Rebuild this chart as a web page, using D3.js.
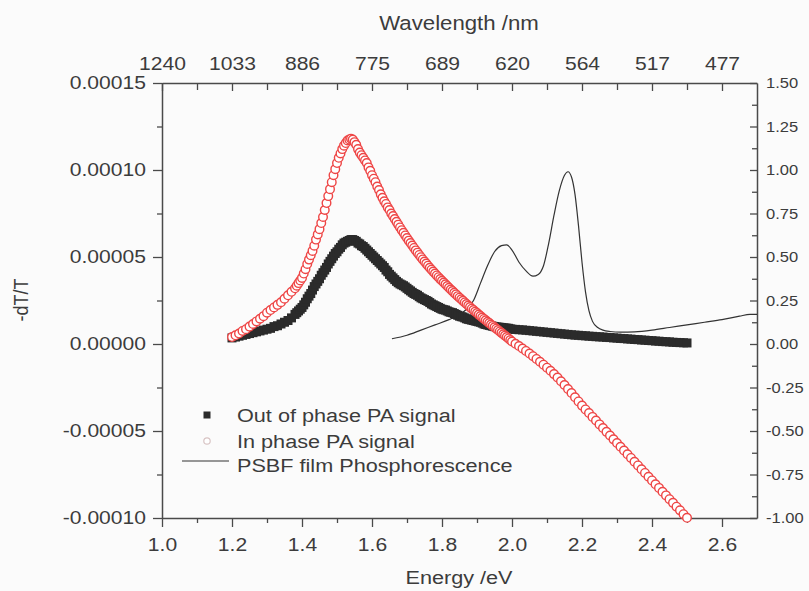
<!DOCTYPE html>
<html>
<head>
<meta charset="utf-8">
<script src="https://cdn.jsdelivr.net/npm/d3@7"></script>
<style>
  body { margin: 0; background: #fbfbfb; }
  svg { display: block; font-family: "Liberation Sans", Arial, sans-serif; }
</style>
</head>
<body>
<svg id="chart" width="809" height="591"></svg>
<script>
// === DATA ===
// photon energy (eV) of the PA points
const energy = [
  1.20,1.21,1.22,1.23,1.24,1.25,1.26,1.27,1.28,1.29,1.30,1.31,1.32,1.33,1.34,1.35,1.36,1.37,1.38,
  1.385,1.39,1.395,1.40,1.405,1.41,1.415,1.42,1.425,1.43,
  1.435,1.44,1.445,1.45,1.455,1.46,1.465,1.47,1.475,1.48,
  1.485,1.49,1.495,1.50,1.505,1.51,1.515,1.52,1.525,1.53,
  1.535,1.54,1.545,1.55,1.555,1.56,1.565,1.57,1.575,1.58,
  1.585,1.59,1.595,1.60,1.605,1.61,1.615,1.62,1.625,1.63,
  1.635,1.64,1.645,1.65,1.655,1.66,
  1.665,1.67,1.675,1.68,1.685,1.69,1.695,1.70,1.705,1.71,
  1.715,1.72,1.725,1.73,1.735,1.74,1.745,1.75,1.755,1.76,
  1.765,1.77,1.775,1.78,1.785,1.79,1.795,1.80,1.805,1.81,
  1.815,1.82,1.825,1.83,1.835,1.84,1.845,1.85,1.855,1.86,
  1.865,1.87,1.875,1.88,1.885,1.89,1.895,1.90,1.905,1.91,
  1.915,1.92,1.925,1.93,1.935,1.94,1.945,1.95,1.955,1.96,
  1.965,1.97,1.975,1.98,1.985,1.99,1.995,2.00,
  2.01,2.02,2.03,2.04,2.05,2.06,2.07,2.08,2.09,2.10,
  2.11,2.12,2.13,2.14,2.15,2.16,2.17,2.18,2.19,2.20,
  2.21,2.22,2.23,2.24,2.25,2.26,2.27,2.28,2.29,2.30,
  2.31,2.32,2.33,2.34,2.35,2.36,2.37,2.38,2.39,2.40,
  2.41,2.42,2.43,2.44,2.45,2.46,2.47,2.48,2.49,2.50
];
// -dT/T, in units of 1e-5
const outPhase = [
  0.35,0.4,0.45,0.5,0.55,0.6,0.65,0.7,0.75,0.8,0.85,0.9,1.0,1.05,1.15,1.25,1.35,1.5,1.7,
  1.8,1.9,2.0,2.1,2.25,2.4,2.6,2.75,2.9,3.1,
  3.3,3.45,3.6,3.75,3.95,4.1,4.25,4.4,4.6,4.75,
  4.9,5.05,5.2,5.3,5.45,5.55,5.7,5.8,5.85,5.9,
  5.95,6.0,6.0,5.95,5.9,5.8,5.75,5.65,5.6,5.5,
  5.4,5.3,5.2,5.1,5.0,4.9,4.8,4.7,4.6,4.5,
  4.4,4.25,4.15,4.0,3.9,3.8,
  3.7,3.6,3.52,3.45,3.4,3.35,3.28,3.2,3.12,3.05,
  2.97,2.9,2.85,2.8,2.72,2.65,2.6,2.55,2.5,2.45,
  2.38,2.3,2.25,2.2,2.15,2.1,2.05,2.0,1.97,1.95,
  1.9,1.85,1.82,1.8,1.75,1.7,1.65,1.6,1.57,1.55,
  1.5,1.45,1.42,1.4,1.37,1.35,1.32,1.3,1.27,1.25,
  1.2,1.15,1.12,1.1,1.07,1.05,1.02,1.0,0.98,0.97,
  0.96,0.95,0.93,0.92,0.91,0.9,0.87,0.85,
  0.84,0.82,0.81,0.79,0.77,0.75,0.73,0.71,0.69,0.67,
  0.65,0.63,0.61,0.59,0.57,0.55,0.53,0.51,0.5,0.48,
  0.47,0.45,0.44,0.42,0.41,0.4,0.38,0.37,0.35,0.34,
  0.32,0.31,0.29,0.28,0.26,0.25,0.23,0.22,0.2,0.19,
  0.17,0.16,0.14,0.13,0.12,0.1,0.09,0.08,0.07,0.06
];
const inPhase = [
  0.4,0.5,0.6,0.75,0.85,1.0,1.15,1.3,1.45,1.6,1.8,1.95,2.1,2.25,2.4,2.6,2.8,3.0,3.2,
  3.35,3.5,3.65,3.8,4.05,4.3,4.6,4.85,5.1,5.35,
  5.65,6.0,6.3,6.6,6.95,7.3,7.7,8.1,8.5,8.9,
  9.3,9.7,10.05,10.4,10.7,10.95,11.2,11.4,11.55,11.7,
  11.75,11.8,11.75,11.6,11.45,11.2,11.0,10.85,10.7,10.55,
  10.4,10.15,9.95,9.7,9.5,9.3,9.05,8.85,8.6,8.4,
  8.2,8.05,7.85,7.7,7.5,7.35,
  7.18,7.02,6.86,6.70,6.54,6.39,6.24,6.09,5.94,5.80,
  5.66,5.52,5.38,5.25,5.12,4.99,4.86,4.74,4.62,4.50,
  4.38,4.27,4.16,4.05,3.94,3.84,3.73,3.63,3.53,3.43,
  3.33,3.23,3.13,3.04,2.94,2.85,2.75,2.66,2.57,2.48,
  2.39,2.30,2.21,2.12,2.03,1.95,1.86,1.78,1.69,1.61,
  1.52,1.44,1.36,1.28,1.20,1.12,1.04,0.96,0.88,0.80,
  0.72,0.64,0.56,0.48,0.40,0.32,0.23,0.14,
  0.01,-0.12,-0.26,-0.40,-0.55,-0.70,-0.86,-1.02,-1.19,-1.36,
  -1.54,-1.73,-1.93,-2.14,-2.36,-2.59,-2.82,-3.06,-3.30,-3.54,
  -3.76,-3.97,-4.19,-4.40,-4.62,-4.83,-5.05,-5.26,-5.48,-5.69,
  -5.91,-6.12,-6.34,-6.55,-6.77,-6.98,-7.20,-7.41,-7.63,-7.84,
  -8.06,-8.27,-8.49,-8.70,-8.92,-9.13,-9.35,-9.56,-9.78,-9.99
];
// PSBF film phosphorescence (right axis)
const phosEnergy = [
  1.657,1.70,1.74,1.78,1.82,1.85,1.87,1.89,1.91,1.93,1.95,1.97,1.985,2.00,2.02,2.04,2.06,2.075,
  2.09,2.105,2.12,2.135,2.15,2.16,2.17,2.18,2.19,2.20,2.21,2.22,2.23,2.245,2.26,2.28,2.31,
  2.35,2.40,2.45,2.50,2.55,2.60,2.65,2.68,2.70
];
const phosValue = [
  0.03,0.05,0.08,0.11,0.14,0.17,0.20,0.25,0.35,0.45,0.53,0.565,0.57,0.54,0.47,0.42,0.39,0.40,
  0.45,0.58,0.74,0.88,0.97,0.99,0.96,0.86,0.68,0.47,0.30,0.19,0.13,0.095,0.08,0.072,0.068,
  0.07,0.08,0.095,0.11,0.125,0.14,0.16,0.17,0.17
];

const energyTicks = [1.0,1.2,1.4,1.6,1.8,2.0,2.2,2.4,2.6];
const energyMinor = [1.1,1.3,1.5,1.7,1.9,2.1,2.3,2.5];
const wavelengthLabels = ["1240","1033","886","775","689","620","564","517","477"];
const leftTicks = [15,10,5,0,-5,-10];
const leftMinor = [12.5,7.5,2.5,-2.5,-7.5];
const rightTicks = [1.5,1.25,1.0,0.75,0.5,0.25,0,-0.25,-0.5,-0.75,-1.0];
const rightMinor = [1.375,1.125,0.875,0.625,0.375,0.125,-0.125,-0.375,-0.625,-0.875];

// === SETUP ===
const SX = 1.14;            // the scanned figure is a little wider than tall
const textColor = "#3c3c3c";
const axisColor = "#4a4a4a";
const svg = d3.select("#chart");

const x = d3.scaleLinear().domain([1.0, 2.7]).range([162, 757]);
const y = d3.scaleLinear().domain([-10, 15]).range([518, 83]);
const y2 = d3.scaleLinear().domain([-1, 1.5]).range([518, 83]);

function styleAxis(g, fontSize) {
  g.select(".domain").attr("stroke", axisColor).attr("stroke-width", 1.5);
  g.selectAll(".tick line").attr("stroke", axisColor).attr("stroke-width", 1.3);
  g.selectAll("text").attr("fill", textColor).attr("font-size", fontSize)
    .attr("font-family", "Liberation Sans, Arial, sans-serif");
}

function label(xp, yp, txt, size, anchor) {
  return svg.append("text")
    .attr("transform", `translate(${xp},${yp}) scale(${SX},1)`)
    .attr("text-anchor", anchor)
    .attr("font-size", size)
    .attr("fill", textColor)
    .text(txt);
}

// === AXES ===
const gBottom = svg.append("g").attr("transform", `translate(0,${y(-10)})`)
  .call(d3.axisBottom(x).tickValues(energyTicks).tickFormat(d => d.toFixed(1))
    .tickSizeInner(9).tickSizeOuter(0).tickPadding(11));
styleAxis(gBottom, 18.5);
gBottom.selectAll("text").attr("transform", `scale(${SX},1)`);

svg.append("g").attr("transform", `translate(0,${y(-10)})`)
  .call(d3.axisBottom(x).tickValues(energyMinor).tickFormat("").tickSize(5))
  .call(g => styleAxis(g, 0)).call(g => g.select(".domain").remove());

const gTop = svg.append("g").attr("transform", `translate(0,${y(15)})`)
  .call(d3.axisTop(x).tickValues(energyTicks).tickFormat((d, i) => wavelengthLabels[i])
    .tickSizeInner(-8).tickSizeOuter(0).tickPadding(13));
styleAxis(gTop, 18.5);
gTop.selectAll("text").attr("transform", `scale(${SX},1)`);

svg.append("g").attr("transform", `translate(0,${y(15)})`)
  .call(d3.axisTop(x).tickValues(energyMinor).tickFormat("").tickSize(-7))
  .call(g => styleAxis(g, 0)).call(g => g.select(".domain").remove());

const gLeft = svg.append("g").attr("transform", `translate(${x(1.0)},0)`)
  .call(d3.axisLeft(y).tickValues(leftTicks).tickFormat(d => (d * 1e-5).toFixed(5))
    .tickSizeInner(9).tickSizeOuter(0));
styleAxis(gLeft, 18.5);
gLeft.selectAll("text").attr("x", -16 / SX).attr("transform", `scale(${SX},1)`);

svg.append("g").attr("transform", `translate(${x(1.0)},0)`)
  .call(d3.axisLeft(y).tickValues(leftMinor).tickFormat("").tickSize(5))
  .call(g => styleAxis(g, 0)).call(g => g.select(".domain").remove());

const gRight = svg.append("g").attr("transform", `translate(${x(2.7)},0)`)
  .call(d3.axisRight(y2).tickValues(rightTicks).tickFormat(d => d.toFixed(2))
    .tickSizeInner(-7).tickSizeOuter(0));
styleAxis(gRight, 14.5);
gRight.selectAll("text").attr("x", 9 / SX).attr("transform", `scale(${SX},1)`);

svg.append("g").attr("transform", `translate(${x(2.7)},0)`)
  .call(d3.axisRight(y2).tickValues(rightMinor).tickFormat("").tickSize(-5))
  .call(g => styleAxis(g, 0)).call(g => g.select(".domain").remove());

// axis titles
label(459, 584, "Energy /eV", 19, "middle");
label(459, 30, "Wavelength /nm", 19.5, "middle");
svg.append("text")
  .attr("transform", "translate(28,300) rotate(-90) scale(1,1.1)")
  .attr("text-anchor", "middle")
  .attr("font-size", 18)
  .attr("fill", textColor)
  .text("-dT/T");

// === DATA MARKS ===
const phosPts = phosEnergy.map((e, i) => [e, phosValue[i]]);
svg.append("path")
  .datum(phosPts)
  .attr("fill", "none")
  .attr("stroke", "#333")
  .attr("stroke-width", 1.2)
  .attr("d", d3.line().x(d => x(d[0])).y(d => y2(d[1])).curve(d3.curveMonotoneX));

const outPts = energy.map((e, i) => [e, outPhase[i]]).filter(d => d[1] !== undefined);
svg.append("g").selectAll("rect")
  .data(outPts)
  .join("rect")
  .attr("x", d => x(d[0]) - 4.5)
  .attr("y", d => y(d[1]) - 4.5)
  .attr("width", 9)
  .attr("height", 9)
  .attr("fill", "#2b2b2b");

const inPts = energy.map((e, i) => [e, inPhase[i]]).filter(d => d[1] !== undefined);
svg.append("g").selectAll("circle")
  .data(inPts)
  .join("circle")
  .attr("cx", d => x(d[0]))
  .attr("cy", d => y(d[1]))
  .attr("r", 4.3)
  .attr("fill", "#fff")
  .attr("stroke", "#ee4646")
  .attr("stroke-width", 1.4);

// === LEGEND ===
svg.append("rect").attr("x", 203.5).attr("y", 411.5).attr("width", 7).attr("height", 7).attr("fill", "#2b2b2b");
svg.append("circle").attr("cx", 207).attr("cy", 441).attr("r", 3.2)
  .attr("fill", "#fff").attr("stroke", "#d8c4c4").attr("stroke-width", 1.2);
svg.append("line").attr("x1", 182).attr("x2", 229).attr("y1", 461).attr("y2", 461)
  .attr("stroke", "#333").attr("stroke-width", 1.2);
label(237, 422, "Out of phase PA signal", 19, "start");
label(237, 448, "In phase PA signal", 19, "start");
label(237, 472, "PSBF film Phosphorescence", 19, "start");
</script>
</body>
</html>
